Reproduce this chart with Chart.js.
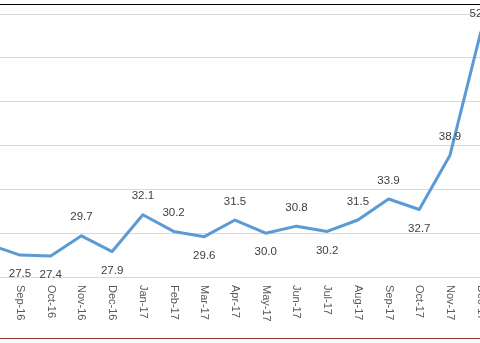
<!DOCTYPE html>
<html>
<head>
<meta charset="utf-8">
<script src="https://cdn.jsdelivr.net/npm/chart.js@4"></script>
<style>
    html, body { margin: 0; padding: 0; background: #fff; overflow: hidden; }
    body { width: 480px; height: 343px; position: relative; }
    #wrap { position: absolute; left: -40px; top: 0; width: 560px; height: 343px; }
    #topRule { position: absolute; left: 0; top: 4px; width: 480px; height: 1px; background: #000; }
    #bottomRule { position: absolute; left: 0; top: 338px; width: 480px; height: 1px; background: #8a3b2e; }
</style>
</head>
<body>
<div id="wrap"><canvas id="chart" width="560" height="343"></canvas></div>
<div id="topRule"></div>
<div id="bottomRule"></div>
<script>
// ---- data ----
const months = ["Aug-16", "Sep-16", "Oct-16", "Nov-16", "Dec-16",
                "Jan-17", "Feb-17", "Mar-17", "Apr-17", "May-17", "Jun-17",
                "Jul-17", "Aug-17", "Sep-17", "Oct-17", "Nov-17", "Dec-17"];
const values = [28.7, 27.5, 27.4, 29.7, 27.9,
                32.1, 30.2, 29.6, 31.5, 30.0, 30.8,
                30.2, 31.5, 33.9, 32.7, 38.9, 52.9];
const yTicks = [25, 30, 35, 40, 45, 50, 55];

// labels that sit under the line instead of above it
const belowLabels = ["Sep-16", "Oct-16", "Dec-16", "Mar-17", "May-17", "Jul-17", "Oct-17"];

// ---- labels drawn by hand (data values + top-to-bottom month text) ----
const labelPlugin = {
    id: "labels",
    afterDatasetsDraw(chart) {
        const ctx = chart.ctx;
        const meta = chart.getDatasetMeta(0);
        const xScale = chart.scales.x;

        ctx.save();
        ctx.font = "11.5px 'Liberation Sans', Arial, sans-serif";
        ctx.fillStyle = "#404040";
        ctx.textAlign = "center";
        ctx.textBaseline = "middle";
        meta.data.forEach((pt, i) => {
            const dy = belowLabels.includes(months[i]) ? 19 : -18.5;
            ctx.fillText(values[i].toFixed(1), pt.x, pt.y + dy);
        });

        ctx.font = "11px 'Liberation Sans', Arial, sans-serif";
        ctx.fillStyle = "#595959";
        ctx.textAlign = "left";
        months.forEach((m, i) => {
            const x = xScale.getPixelForValue(i);
            ctx.save();
            ctx.translate(x, chart.chartArea.bottom + 8);
            ctx.rotate(Math.PI / 2);
            ctx.fillText(m, 0, 0);
            ctx.restore();
        });
        ctx.restore();
    }
};

new Chart(document.getElementById("chart"), {
    type: "line",
    data: {
        labels: months,
        datasets: [{
            data: values,
            borderColor: "#5B9BD5",
            borderWidth: 3,
            tension: 0,
            pointRadius: 0,
            borderJoinStyle: "round",
            borderCapStyle: "round",
            fill: false
        }]
    },
    options: {
        responsive: false,
        animation: false,
        devicePixelRatio: 1,
        layout: { padding: { left: 29.3, right: 39.3, top: 14, bottom: 0 } },
        plugins: {
            legend: { display: false },
            tooltip: { enabled: false }
        },
        scales: {
            x: {
                type: "category",
                offset: false,
                grid: { display: false },
                border: { display: false },
                ticks: { display: false },
                afterFit: (s) => { s.height = 66; }
            },
            y: {
                min: yTicks[0],
                max: yTicks[yTicks.length - 1],
                afterBuildTicks: (s) => { s.ticks = yTicks.map(v => ({ value: v })); },
                grid: { color: "#D9D9D9", lineWidth: 1, drawTicks: false },
                border: { display: false },
                ticks: { display: false },
                afterFit: (s) => { s.width = 0; }
            }
        }
    },
    plugins: [labelPlugin]
});
</script>
</body>
</html>
